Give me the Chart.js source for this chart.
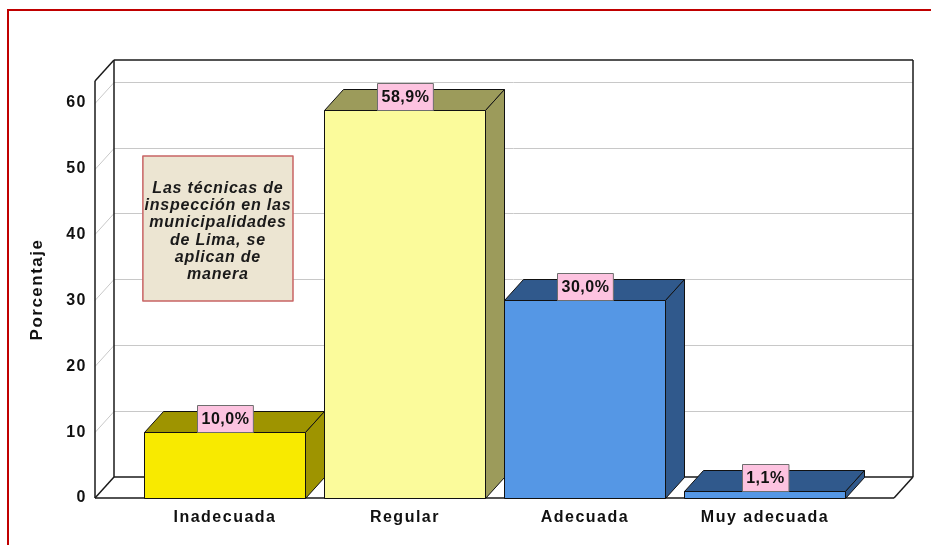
<!DOCTYPE html>
<html>
<head>
<meta charset="utf-8">
<script src="https://cdn.jsdelivr.net/npm/chart.js@4/dist/chart.umd.min.js"></script>
<style>
  html, body { margin: 0; padding: 0; background: #fff; }
  #wrap { position: relative; width: 931px; height: 545px; overflow: hidden; }
  #frame { position: absolute; left: 7px; top: 9px; width: 1000px; height: 1000px;
           border: 2px solid #c00000; box-sizing: border-box; pointer-events: none; }
</style>
</head>
<body>
<div id="wrap"><canvas id="chart"></canvas><div id="frame"></div></div>
<script>
// ----------- Data ------------
const categories = ["Inadecuada", "Regular", "Adecuada", "Muy adecuada"];
const percentages = [10.0, 58.9, 30.0, 1.1];
const yTicks = [0, 10, 20, 30, 40, 50, 60];
const frontColors = ["#f8ea00", "#fbfb9b", "#5597e5", "#5597e5"];
const shadeColors = ["#9e9400", "#9c9b5b", "#30598c", "#30598c"];
const noteLines = ["Las técnicas de", "inspección en las", "municipalidades", "de Lima, se", "aplican de", "manera"];

const FONT = "'Liberation Sans', Arial, sans-serif";
const DX = 19, DY = 21; // depth of the 3D box

function seg(ctx, x1, y1, x2, y2) {
  ctx.beginPath();
  ctx.moveTo(x1, y1);
  ctx.lineTo(x2, y2);
  ctx.stroke();
}

function poly(ctx, pts, fill) {
  ctx.beginPath();
  ctx.moveTo(pts[0][0], pts[0][1]);
  pts.slice(1).forEach((p) => ctx.lineTo(p[0], p[1]));
  ctx.closePath();
  ctx.fillStyle = fill;
  ctx.fill();
  ctx.stroke();
}

// ----------- 3D walls, bar faces, labels ------------
const box3d = {
  id: "box3d",
  beforeDraw(chart) {
    chart.ctx.letterSpacing = "1.5px";
  },
  beforeDatasetsDraw(chart) {
    const { ctx, chartArea: a, scales: { y } } = chart;
    ctx.save();
    ctx.lineWidth = 1;
    ctx.strokeStyle = "#c8c8c8";
    yTicks.forEach((v) => {
      if (v === 0) return;
      const py = Math.round(y.getPixelForValue(v)) + 0.5;
      seg(ctx, a.left, py, a.left + DX, py - DY);
      seg(ctx, a.left + DX, py - DY, a.right + DX, py - DY);
    });
    ctx.strokeStyle = "#1a1a1a";
    ctx.lineWidth = 1.5;
    const L = a.left, R = a.right, T = a.top, B = a.bottom;
    seg(ctx, L + DX, T - DY, R + DX, T - DY);
    seg(ctx, L + DX, T - DY, L + DX, B - DY);
    seg(ctx, R + DX, T - DY, R + DX, B - DY);
    seg(ctx, L + DX, B - DY, R + DX, B - DY);
    seg(ctx, L, T, L, B);
    seg(ctx, L, B, R, B);
    seg(ctx, L, T, L + DX, T - DY);
    seg(ctx, L, B, L + DX, B - DY);
    seg(ctx, R, B, R + DX, B - DY);
    ctx.restore();
  },
  afterDatasetsDraw(chart) {
    const { ctx, scales: { x, y } } = chart;
    const meta = chart.getDatasetMeta(0);
    ctx.save();
    ctx.strokeStyle = "#111";
    ctx.lineWidth = 1;
    ctx.lineJoin = "round";
    meta.data.forEach((bar, i) => {
      const x1 = Math.round(bar.x - bar.width / 2) + 0.5, x2 = Math.round(bar.x + bar.width / 2) + 0.5;
      const yt = Math.round(bar.y) + 0.5, yb = Math.round(bar.base) + 0.5;
      ctx.strokeRect(x1, yt, x2 - x1, yb - yt);
      poly(ctx, [[x1, yt], [x1 + DX, yt - DY], [x2 + DX, yt - DY], [x2, yt]], shadeColors[i]);
      poly(ctx, [[x2, yt], [x2 + DX, yt - DY], [x2 + DX, yb - DY], [x2, yb]], shadeColors[i]);
    });

    // value labels
    ctx.font = "bold 16px " + FONT;
    ctx.letterSpacing = "0.5px";
    ctx.textAlign = "center";
    ctx.textBaseline = "middle";
    meta.data.forEach((bar, i) => {
      const txt = percentages[i].toFixed(1).replace(".", ",") + "%";
      const w = ctx.measureText(txt).width + 8, h = 27;
      const bx = Math.round(bar.x - w / 2) + 0.5, by = Math.round(bar.y - h) + 0.5;
      ctx.fillStyle = "#fdc3e0";
      ctx.fillRect(bx, by, w, h);
      ctx.strokeStyle = "#6e6e6e";
      ctx.strokeRect(bx, by, w, h);
      ctx.fillStyle = "#111";
      ctx.fillText(txt, bar.x + 0.5, by + h / 2 + 1);
    });

    // note box
    const nx0 = x.getPixelForValue(0.544), nx1 = x.getPixelForValue(1.378);
    const ny0 = y.getPixelForValue(51.9), ny1 = y.getPixelForValue(29.9);
    ctx.fillStyle = "#ece5d2";
    ctx.fillRect(nx0, ny0, nx1 - nx0, ny1 - ny0);
    ctx.strokeStyle = "#c86464";
    ctx.lineWidth = 1.5;
    ctx.strokeRect(nx0, ny0, nx1 - nx0, ny1 - ny0);
    ctx.font = "italic bold 16px " + FONT;
    ctx.letterSpacing = "0.8px";
    ctx.fillStyle = "#1a1a1a";
    const lh = 17.2;
    const cy = (ny0 + ny1) / 2 + 3 - (noteLines.length - 1) * lh / 2;
    noteLines.forEach((t, i) => ctx.fillText(t, (nx0 + nx1) / 2, cy + i * lh));
    ctx.restore();
  },
  afterDraw(chart) {
    chart.ctx.letterSpacing = "0px";
  },
};

// ----------- Chart ------------
new Chart(document.getElementById("chart"), {
  type: "bar",
  data: {
    datasets: [
      {
        data: categories.map((c, i) => ({ x: i + 1, y: percentages[i] })),
        backgroundColor: frontColors,
        borderWidth: 0,
        categoryPercentage: 1,
        barPercentage: 0.894,
      },
    ],
  },
  options: {
    responsive: true,
    maintainAspectRatio: false,
    animation: false,
    layout: { padding: { top: 81, right: 37, left: 0, bottom: 0 } },
    plugins: { legend: { display: false }, tooltip: { enabled: false } },
    scales: {
      x: {
        type: "linear",
        offset: false,
        min: 0.278,
        max: 4.717,
        grid: { display: false, drawTicks: false, offset: false },
        border: { display: false },
        afterBuildTicks: (s) => { s.ticks = categories.map((c, i) => ({ value: i + 1 })); },
        afterFit: (s) => { s.height = 47; },
        ticks: {
          autoSkip: false,
          maxRotation: 0,
          padding: 10,
          color: "#111",
          font: { family: FONT, size: 16, weight: "bold" },
          callback: (v) => categories[Math.round(v) - 1],
        },
      },
      y: {
        min: 0,
        max: 63.3,
        grid: { display: false, drawTicks: false },
        border: { display: false },
        afterBuildTicks: (s) => { s.ticks = yTicks.map((v) => ({ value: v })); },
        afterFit: (s) => { s.width = 95; },
        ticks: {
          padding: 8,
          color: "#111",
          font: { family: FONT, size: 16, weight: "bold" },
        },
        title: {
          display: true,
          text: "Porcentaje",
          color: "#111",
          padding: { top: 27, bottom: 0 },
          font: { family: FONT, size: 17, weight: "bold" },
        },
      },
    },
  },
  plugins: [box3d],
});
</script>
</body>
</html>
